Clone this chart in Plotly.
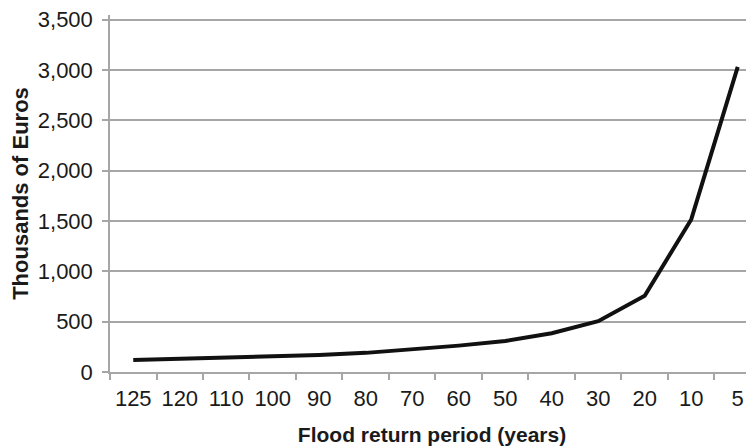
import plotly.graph_objects as go

periods = ["125", "120", "110", "100", "90", "80", "70", "60", "50", "40", "30", "20", "10", "5"]
damages = [120, 130, 140, 152, 168, 190, 222, 262, 308, 385, 505, 757, 1515, 3030]
y_ticks = [0, 500, 1000, 1500, 2000, 2500, 3000, 3500]
y_labels = ["0", "500", "1,000", "1,500", "2,000", "2,500", "3,000", "3,500"]

grey = "#a6a6a6"
font = "Liberation Sans, Arial, Helvetica, sans-serif"

fig = go.Figure()
fig.add_trace(go.Scatter(
    x=periods, y=damages, mode="lines",
    line=dict(color="#111111", width=4),
    showlegend=False,
))

# page body has an 8px default margin, so the figure is sized to fill the rest
fig.update_layout(
    width=746, height=439,
    margin=dict(l=102, r=0, t=7, b=75),
    paper_bgcolor="white", plot_bgcolor="white",
    font=dict(family=font, size=22, color="#1a1a1a"),
    xaxis=dict(
        type="category",
        range=[-0.5, 13.35],
        automargin=False,
        showgrid=False,
        showline=True, linecolor=grey, linewidth=1.5,
        ticks="outside", ticklen=6, tickcolor=grey, tickwidth=1.5,
        tickson="boundaries",
        ticklabelstandoff=6,
        ticklabeloverflow="allow",
        tickfont=dict(size=22),
        title=dict(text="<b>Flood return period (years)</b>", font=dict(size=21), standoff=17),
        zeroline=False,
    ),
    yaxis=dict(
        range=[0, 3545],
        automargin=False,
        tickvals=y_ticks, ticktext=y_labels,
        showgrid=True, gridcolor=grey, gridwidth=1.5,
        showline=True, linecolor=grey, linewidth=1.5,
        ticks="outside", ticklen=6, tickcolor=grey, tickwidth=1.5,
        ticklabelstandoff=5,
        ticklabeloverflow="allow",
        tickfont=dict(size=22),
        title=dict(text="<b>Thousands of Euros</b>", font=dict(size=22), standoff=15),
        zeroline=False,
    ),
)

fig.write_html("out.html")
